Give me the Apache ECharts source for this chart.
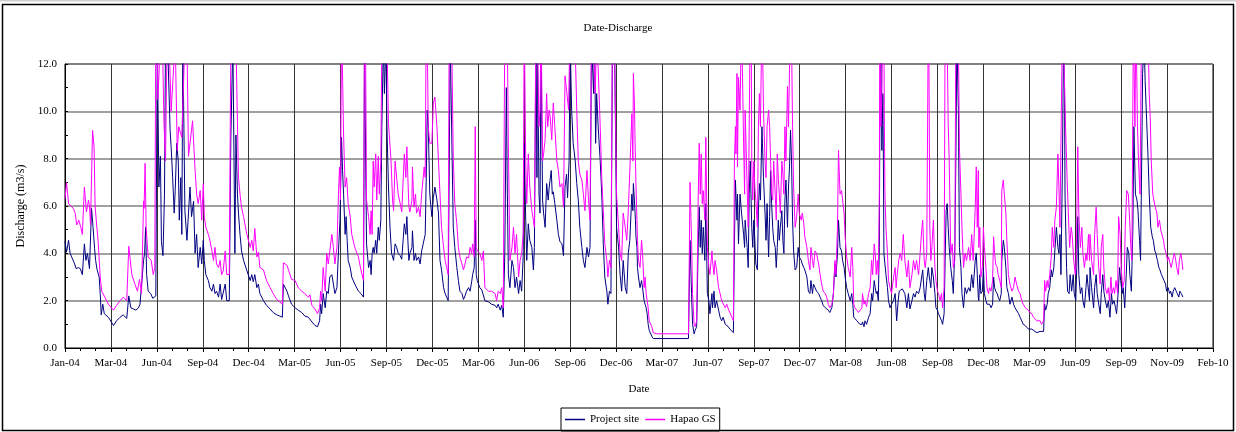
<!DOCTYPE html>
<html>
<head>
<meta charset="utf-8">
<script src="https://cdn.jsdelivr.net/npm/echarts@6/dist/echarts.min.js"></script>
<style>
html,body{margin:0;padding:0;background:#fff;}
#chart{width:1236px;height:432px;}
</style>
</head>
<body>
<div id="chart"></div>
<script>
// Day offsets are days since 2004-01-01; values are discharge in m3/s.
const startDate = [2004, 0, 1];
const monthNames = ['Jan','Feb','Mar','Apr','May','Jun','Jul','Aug','Sep','Oct','Nov','Dec'];
const seriesNames = ['Project site', 'Hapao GS'];
const yTicks = [0, 2, 4, 6, 8, 10, 12];

const projectSite = [[0,4.5],[3,4.05],[7,4.55],[10,4.0],[13,3.85],[18,3.6],[22,3.35],[26,3.4],[30,3.35],[34,3.1],[38,4.4],[41,3.7],[44,4.0],[48,3.35],[52,5.9],[55,5.1],[58,4.2],[60,3.7],[63,3.3],[67,3.0],[69,2.3],[71,1.4],[74,1.85],[77,1.45],[85,1.3],[95,0.95],[101,1.15],[108,1.3],[114,1.4],[121,1.25],[125,2.2],[129,1.7],[134,1.65],[139,1.6],[144,1.7],[147,1.85],[150,1.8],[154,3.7],[156,4.0],[158,5.1],[160,3.1],[163,2.4],[168,2.3],[172,2.1],[175,2.05],[178,2.2],[179,6.0],[181,13],[184,6.8],[187,8.1],[189,4.5],[192,3.9],[195,6.5],[197,13],[201,13],[206,9.2],[208,8.5],[211,7.2],[214,5.7],[216,6.65],[219,8.65],[222,7.9],[224,5.4],[227,7.2],[229,4.8],[231,13],[234,13],[235,5.8],[239,4.55],[242,5.7],[245,6.8],[248,5.55],[252,6.2],[255,4.0],[258,4.8],[261,3.4],[265,4.25],[268,3.55],[271,4.55],[273,3.7],[276,3.1],[281,2.85],[284,2.55],[288,2.4],[291,2.7],[294,2.3],[297,2.4],[301,2.15],[304,2.7],[307,2.05],[310,2.1],[314,2.7],[317,2.0],[322,2.0],[325,8.8],[329,13],[331,13],[333,4.0],[335,9.0],[338,6.5],[340,5.7],[343,4.8],[346,4.1],[350,3.7],[356,3.3],[363,2.85],[366,3.1],[369,2.8],[372,3.1],[376,2.55],[379,2.7],[382,2.3],[389,2.0],[395,1.8],[402,1.65],[408,1.5],[415,1.4],[421,1.35],[426,1.3],[428,2.7],[435,2.4],[438,2.2],[444,1.85],[451,1.7],[457,1.6],[464,1.5],[470,1.35],[477,1.3],[480,1.35],[484,1.1],[490,0.95],[495,0.9],[499,1.15],[501,1.85],[503,1.45],[506,2.3],[510,1.7],[513,2.4],[516,2.3],[519,3.0],[523,3.1],[526,2.7],[529,2.3],[533,2.55],[536,4.1],[539,5.4],[542,8.9],[544,7.5],[546,6.5],[549,4.8],[551,5.55],[553,4.55],[555,3.7],[559,3.4],[562,3.0],[568,2.7],[575,2.4],[580,2.3],[585,2.15],[587,13],[589,13],[591,4.4],[595,3.4],[598,3.7],[600,3.1],[602,4.0],[604,4.25],[606,4.0],[609,4.55],[611,4.0],[614,5.1],[616,4.55],[619,5.4],[621,9.35],[624,13],[626,10.75],[629,13],[631,9.35],[634,6.8],[637,5.1],[640,4.0],[644,3.7],[647,4.4],[650,4.25],[653,4.0],[657,3.9],[660,3.75],[663,3.7],[665,5.25],[668,4.8],[670,5.55],[672,4.55],[674,3.7],[676,4.0],[680,4.25],[681,4.95],[684,3.7],[687,4.0],[689,3.7],[693,3.85],[696,3.55],[699,4.1],[702,4.4],[706,4.8],[708,7.2],[710,10.05],[712,9.35],[715,6.5],[719,5.55],[722,6.35],[725,6.8],[729,6.25],[732,5.7],[735,3.7],[738,3.3],[742,2.55],[745,2.3],[748,2.15],[751,2.0],[755,13],[758,13],[761,5.1],[764,4.25],[768,3.4],[771,2.85],[774,2.4],[778,2.3],[781,2.05],[784,2.2],[787,2.4],[791,2.55],[794,2.4],[797,2.8],[799,3.1],[802,3.4],[804,5.4],[806,3.1],[808,2.85],[813,2.55],[817,2.45],[820,2.4],[823,2.0],[830,1.95],[836,1.85],[843,1.8],[846,1.7],[849,1.85],[853,1.6],[856,1.8],[859,1.3],[862,4.0],[865,11],[867,6.5],[869,3.1],[872,2.55],[876,3.7],[879,3.4],[882,2.55],[885,3.0],[889,2.3],[892,2.85],[895,2.4],[898,3.85],[900,8.65],[903,5.4],[905,3.7],[908,5.25],[911,4.55],[915,4.25],[918,3.3],[920,4.25],[923,13],[925,7.2],[926,13],[929,6.5],[931,5.7],[933,13],[936,6.25],[938,5.7],[941,5.1],[944,6.95],[947,6.25],[949,6.8],[953,7.5],[955,6.5],[957,6.6],[960,6.1],[964,5.4],[967,4.8],[970,4.5],[974,4.4],[977,3.9],[980,6.8],[983,7.35],[985,6.35],[988,7.9],[990,13],[993,10.05],[996,8.65],[1000,7.9],[1003,6.95],[1006,6.25],[1009,5.1],[1013,4.25],[1016,3.7],[1019,3.4],[1023,4.25],[1026,3.85],[1029,4.25],[1032,13],[1036,10.75],[1038,13],[1040,8.65],[1042,10.75],[1045,9.35],[1049,7.9],[1052,6.5],[1055,4.4],[1058,3.0],[1062,2.4],[1064,1.85],[1067,2.4],[1070,2.3],[1073,13],[1077,13],[1081,5.1],[1085,4.25],[1088,3.1],[1091,2.4],[1094,3.7],[1098,2.55],[1101,2.3],[1104,4.0],[1107,4.55],[1111,6.5],[1113,5.8],[1114,6.95],[1116,6.25],[1118,5.4],[1119,4.7],[1121,4.25],[1122,3.4],[1124,3.0],[1127,2.55],[1130,2.85],[1132,2.55],[1135,2.0],[1137,1.85],[1139,1.7],[1141,1.45],[1143,1.0],[1145,0.75],[1150,0.5],[1153,0.4],[1222,0.4],[1225,4.55],[1228,2.3],[1230,1.0],[1233,0.6],[1235,0.75],[1238,0.9],[1241,4.25],[1243,5.95],[1245,4.25],[1247,5.4],[1249,4.0],[1251,5.1],[1254,3.7],[1256,6.1],[1259,2.3],[1262,2.0],[1264,1.45],[1268,2.3],[1269,1.7],[1272,2.4],[1274,1.7],[1277,2.0],[1281,1.6],[1284,1.3],[1287,1.15],[1290,1.3],[1294,1.0],[1297,1.05],[1300,0.9],[1303,0.8],[1310,0.65],[1312,4.4],[1314,7.1],[1315,6.5],[1317,5.4],[1318,6.5],[1320,4.4],[1323,6.5],[1326,5.7],[1330,4.8],[1332,4.25],[1333,5.4],[1337,4.25],[1339,3.4],[1341,6.5],[1343,7.9],[1346,5.1],[1348,4.25],[1350,5.4],[1352,4.55],[1354,3.55],[1357,3.3],[1359,5.8],[1361,6.95],[1363,6.25],[1366,9.35],[1367,8.65],[1369,7.2],[1372,5.7],[1374,4.55],[1376,6.1],[1379,3.85],[1381,5.55],[1383,7.5],[1385,6.1],[1387,5.1],[1389,4.55],[1392,4.25],[1394,3.4],[1396,4.25],[1398,5.4],[1400,4.55],[1402,5.1],[1405,5.8],[1407,4.55],[1409,4.0],[1411,6.25],[1413,7.1],[1416,5.1],[1418,6.8],[1420,7.65],[1422,9.2],[1424,7.9],[1426,5.4],[1428,4.1],[1431,3.3],[1434,3.4],[1437,4.25],[1439,3.85],[1443,3.7],[1445,3.55],[1448,3.4],[1450,3.3],[1454,3.0],[1457,2.4],[1460,2.3],[1462,2.85],[1465,2.3],[1467,2.7],[1470,2.55],[1473,2.4],[1477,2.3],[1480,2.15],[1483,2.0],[1486,1.8],[1490,1.7],[1493,1.65],[1496,1.6],[1499,1.5],[1503,1.7],[1506,2.3],[1509,3.55],[1511,3.0],[1514,4.0],[1516,5.4],[1519,4.25],[1522,4.1],[1524,3.7],[1527,3.4],[1529,3.0],[1532,2.55],[1535,2.3],[1539,2.0],[1542,2.3],[1544,1.85],[1546,1.3],[1548,1.25],[1552,1.15],[1555,1.1],[1558,1.0],[1562,1.0],[1563,1.1],[1566,0.9],[1568,1.15],[1571,1.0],[1575,1.3],[1578,1.45],[1581,2.3],[1583,2.0],[1586,2.85],[1588,2.55],[1590,2.3],[1592,2.4],[1594,2.0],[1596,4.25],[1597,9.35],[1599,13],[1601,8.35],[1603,10.75],[1604,7.9],[1605,4.0],[1607,3.55],[1609,3.1],[1612,2.55],[1614,2.0],[1617,1.7],[1620,1.85],[1624,2.0],[1627,2.3],[1630,1.15],[1633,2.0],[1635,2.4],[1638,2.4],[1641,2.5],[1643,2.55],[1646,2.3],[1650,1.7],[1653,2.3],[1656,1.65],[1660,2.0],[1663,2.3],[1666,2.15],[1669,2.4],[1673,2.3],[1676,2.55],[1679,3.0],[1681,3.3],[1684,2.3],[1686,2.0],[1689,2.85],[1692,3.4],[1694,3.0],[1697,2.55],[1699,3.4],[1702,3.0],[1705,2.3],[1707,1.7],[1710,1.6],[1712,1.45],[1715,1.3],[1718,1.15],[1720,1.0],[1723,1.45],[1725,3.7],[1727,5.8],[1729,6.1],[1731,5.1],[1733,4.25],[1736,3.4],[1739,2.85],[1741,2.3],[1744,4.25],[1746,7.9],[1748,13],[1751,10.05],[1753,4.25],[1756,3.4],[1758,2.3],[1761,1.7],[1764,2.55],[1767,2.3],[1771,2.55],[1774,2.4],[1777,3.1],[1780,2.55],[1784,3.7],[1786,4.0],[1788,3.1],[1790,2.15],[1791,2.0],[1793,3.1],[1795,2.3],[1798,2.4],[1800,3.4],[1802,2.3],[1805,2.0],[1807,1.85],[1810,1.8],[1812,1.85],[1815,1.7],[1818,1.85],[1820,3.0],[1822,2.55],[1824,2.4],[1827,2.3],[1829,2.15],[1832,2.0],[1835,2.3],[1836,3.7],[1839,4.55],[1841,4.25],[1844,3.4],[1846,2.55],[1849,2.3],[1852,1.85],[1856,2.15],[1859,1.85],[1862,1.7],[1865,1.65],[1869,1.45],[1872,1.3],[1875,1.15],[1878,1.0],[1882,0.95],[1885,0.9],[1888,0.8],[1891,0.75],[1895,0.8],[1898,0.75],[1901,0.7],[1905,0.65],[1911,0.7],[1914,0.65],[1918,0.7],[1920,1.85],[1922,1.6],[1925,1.85],[1927,2.3],[1930,2.55],[1933,3.3],[1935,3.0],[1938,3.4],[1940,4.1],[1943,5.1],[1946,4.25],[1948,4.0],[1950,4.8],[1952,3.1],[1955,7.9],[1957,13],[1959,10.75],[1960,6.5],[1963,3.4],[1965,2.4],[1968,2.3],[1970,3.1],[1973,2.4],[1976,3.1],[1978,2.3],[1981,2.0],[1983,3.4],[1985,5.55],[1987,3.1],[1990,2.3],[1993,2.55],[1995,2.0],[1998,1.7],[2001,2.55],[2003,3.1],[2006,2.4],[2008,2.0],[2009,3.4],[2012,2.55],[2016,1.7],[2018,2.55],[2021,3.1],[2023,2.3],[2026,1.85],[2029,1.45],[2031,2.3],[2034,3.1],[2036,2.4],[2039,2.0],[2042,1.7],[2045,2.0],[2048,1.3],[2051,2.3],[2053,1.85],[2056,2.0],[2059,1.7],[2061,1.45],[2064,2.3],[2067,3.4],[2069,2.85],[2072,2.3],[2074,2.55],[2077,1.7],[2080,3.1],[2082,4.25],[2085,4.0],[2087,3.1],[2090,2.4],[2093,5.1],[2095,9.35],[2098,6.5],[2101,6.25],[2103,5.8],[2106,4.55],[2108,3.7],[2111,9.35],[2112,11.6],[2115,13],[2117,11.3],[2120,9.6],[2123,7.9],[2125,6.5],[2128,5.1],[2131,4.7],[2133,4.55],[2136,4.1],[2138,4.0],[2141,3.7],[2144,3.4],[2146,3.3],[2149,3.1],[2151,3.0],[2154,2.85],[2157,2.7],[2159,2.4],[2162,2.55],[2165,2.3],[2167,2.4],[2170,2.15],[2172,2.4],[2175,2.55],[2178,2.4],[2180,2.3],[2183,2.15],[2185,2.4],[2188,2.3],[2191,2.15]];

const hapaoGS = [[0,6.3],[3,7.0],[7,6.1],[12,6.0],[16,5.9],[20,5.7],[23,5.2],[27,5.4],[31,5.1],[34,4.8],[38,6.8],[42,5.75],[46,6.25],[48,6.0],[50,5.2],[54,9.2],[57,8.5],[59,6.0],[62,5.2],[65,4.5],[69,3.0],[72,2.4],[78,2.15],[85,1.85],[95,1.6],[101,1.8],[108,2.0],[114,2.15],[121,2.0],[125,4.3],[131,3.1],[137,2.7],[142,2.4],[146,2.9],[150,2.3],[154,6.2],[155,5.9],[157,7.8],[159,5.1],[163,3.85],[169,3.7],[173,3.1],[176,3.4],[178,14],[179,15],[182,10.5],[187,13],[191,13],[194,9.5],[197,7.9],[200,13],[204,13],[208,10],[216,13],[220,8.35],[223,9.35],[229,8.9],[235,13],[239,13],[242,8.1],[245,8.65],[250,9.6],[253,8.35],[255,7.5],[258,6.5],[261,6.1],[265,6.65],[268,5.4],[271,6.95],[273,5.55],[276,5.1],[281,4.8],[284,4.55],[288,4.1],[291,3.7],[294,4.25],[297,3.55],[301,3.4],[304,3.7],[307,3.1],[310,3.25],[314,4.1],[317,3.1],[322,3.1],[325,13],[330,14],[335,13],[340,7.2],[343,6.5],[346,5.95],[350,5.55],[356,4.85],[363,4.25],[366,4.55],[369,4.1],[372,5.05],[376,3.85],[379,4.05],[382,3.4],[389,3.3],[395,2.85],[402,2.55],[408,2.3],[415,2.05],[421,1.95],[426,1.85],[428,3.6],[435,3.5],[438,3.3],[444,2.9],[451,2.85],[457,2.55],[464,2.4],[470,2.3],[477,2.15],[480,2.25],[484,1.8],[490,1.65],[495,1.45],[499,1.7],[501,2.4],[503,2.0],[506,3.4],[510,2.4],[513,4.0],[516,3.55],[519,4.1],[523,4.8],[526,4.25],[529,3.55],[533,4.25],[536,6.5],[538,7.65],[540,6.25],[542,14],[546,9.0],[549,6.8],[552,7.2],[555,6.1],[559,5.55],[562,4.8],[568,4.25],[575,3.85],[580,3.3],[585,2.85],[587,14],[589,13],[591,6.25],[595,5.55],[598,4.8],[600,5.8],[602,4.8],[604,7.9],[606,6.8],[609,8.2],[611,6.25],[614,8.1],[616,6.5],[619,7.9],[621,13],[625,13],[627,14],[631,13],[634,9.5],[639,7.9],[642,6.25],[644,5.8],[647,7.9],[650,7.2],[653,6.5],[657,6.1],[660,5.75],[665,8.2],[668,7.2],[670,8.5],[672,7.2],[674,5.95],[676,5.75],[680,6.25],[681,7.65],[684,5.95],[687,6.5],[689,5.7],[693,5.95],[696,5.55],[699,6.5],[702,7.2],[704,7.65],[706,7.2],[708,14],[710,13],[712,9.35],[715,8.65],[719,8.65],[722,10.35],[725,10.6],[729,9.35],[732,7.9],[735,6.5],[738,5.1],[742,4.25],[745,3.7],[748,3.4],[751,3.1],[753,14],[758,13],[761,8.0],[764,6.1],[768,5.25],[771,4.25],[774,3.85],[778,3.55],[781,3.3],[784,3.55],[787,3.85],[791,3.8],[794,4.25],[797,4.0],[799,4.4],[802,3.85],[804,9.35],[806,4.25],[808,4.1],[813,4.0],[817,3.7],[820,4.1],[823,2.55],[830,2.4],[836,2.4],[843,2.3],[846,2.0],[849,2.4],[853,2.3],[856,2.55],[859,1.7],[862,14],[867,13],[869,8.5],[872,3.7],[876,4.25],[879,5.1],[882,4.0],[885,4.8],[889,3.0],[892,3.7],[895,4.0],[898,4.8],[900,14],[903,7.9],[905,6.1],[908,8.2],[911,6.8],[915,5.8],[918,5.4],[920,5.1],[923,14],[926,13],[929,9.35],[931,10.05],[933,14],[936,7.9],[938,8.2],[941,8.8],[944,10.75],[946,9.35],[949,10.05],[951,9.75],[954,8.8],[957,10.35],[960,9.35],[964,7.9],[967,7.5],[970,6.8],[974,6.95],[977,5.95],[980,11.5],[983,10.9],[987,10.05],[990,14],[994,13],[998,13],[1001,11.8],[1003,10.05],[1006,7.9],[1009,7.35],[1013,7.1],[1016,6.5],[1019,5.8],[1023,7.5],[1026,6.25],[1029,5.4],[1032,14],[1036,13],[1039,10.75],[1042,13],[1045,11.8],[1049,9.35],[1052,7.2],[1055,5.8],[1058,4.4],[1062,3.7],[1064,3.0],[1067,3.7],[1070,3.4],[1073,14],[1077,13],[1081,6.5],[1085,5.1],[1088,4.0],[1091,3.7],[1094,5.7],[1098,5.1],[1101,4.55],[1104,5.8],[1107,7.5],[1111,9.9],[1113,7.9],[1114,11.6],[1116,10.35],[1118,7.9],[1119,6.95],[1121,5.4],[1122,4.55],[1124,3.7],[1127,3.4],[1130,4.55],[1132,4.0],[1135,2.55],[1137,3.0],[1139,2.3],[1141,2.0],[1143,1.7],[1145,1.15],[1148,1.15],[1150,0.9],[1153,0.65],[1160,0.6],[1222,0.6],[1225,7.0],[1228,4.55],[1230,2.3],[1233,1.0],[1235,0.9],[1238,1.15],[1241,6.25],[1243,8.65],[1245,6.5],[1247,8.2],[1249,6.1],[1251,6.65],[1254,5.4],[1256,8.9],[1259,4.25],[1262,3.4],[1264,3.1],[1268,4.1],[1269,3.7],[1272,3.1],[1274,3.7],[1277,3.3],[1281,2.55],[1284,2.3],[1287,2.0],[1290,2.05],[1294,1.7],[1297,1.85],[1300,1.65],[1303,1.6],[1307,1.3],[1310,1.15],[1312,7.9],[1314,9.35],[1315,8.2],[1317,11.6],[1318,7.65],[1320,11.45],[1323,10.05],[1326,14],[1330,8.65],[1332,6.5],[1333,10.05],[1337,6.8],[1339,5.1],[1341,9.35],[1343,14],[1345,13],[1346,7.9],[1348,6.25],[1350,7.9],[1352,6.8],[1354,6.25],[1357,5.1],[1359,9.35],[1361,10.75],[1363,9.35],[1366,14],[1367,13],[1369,10.05],[1372,7.9],[1374,7.2],[1376,9.35],[1379,10.05],[1381,9.35],[1383,7.9],[1385,6.5],[1387,6.25],[1389,7.9],[1392,6.5],[1394,5.4],[1396,8.2],[1398,7.2],[1400,6.5],[1402,5.7],[1405,7.9],[1407,7.35],[1409,6.5],[1411,9.35],[1413,7.9],[1416,11.05],[1418,9.35],[1420,11.75],[1422,14],[1424,13],[1426,9.35],[1428,6.8],[1431,5.1],[1434,5.55],[1437,6.5],[1439,5.7],[1443,5.4],[1445,5.7],[1448,5.25],[1450,4.7],[1454,4.25],[1457,3.7],[1460,3.3],[1462,4.25],[1465,3.7],[1467,3.4],[1470,4.1],[1473,4.0],[1477,3.55],[1480,3.1],[1483,2.7],[1486,2.4],[1490,2.3],[1493,2.15],[1496,1.85],[1499,1.7],[1503,1.85],[1506,2.3],[1509,3.7],[1511,3.1],[1514,5.1],[1516,8.35],[1519,6.5],[1522,6.65],[1524,6.25],[1527,5.7],[1529,4.7],[1532,3.85],[1535,3.4],[1539,3.0],[1542,4.25],[1544,3.4],[1546,1.85],[1548,1.7],[1552,1.6],[1555,1.5],[1558,1.45],[1562,1.7],[1563,2.3],[1566,1.85],[1568,2.0],[1571,1.75],[1575,2.3],[1578,2.55],[1581,3.7],[1583,3.1],[1586,4.4],[1588,4.0],[1590,3.1],[1592,3.7],[1594,3.1],[1596,6.5],[1597,14],[1599,9.35],[1601,10.75],[1603,14],[1605,13],[1606,9.35],[1607,6.5],[1609,5.1],[1612,4.0],[1614,2.85],[1617,2.55],[1620,2.3],[1624,3.0],[1627,3.4],[1629,2.55],[1631,3.1],[1634,3.7],[1637,4.0],[1640,3.7],[1643,4.8],[1646,3.7],[1650,3.0],[1653,3.7],[1656,2.55],[1660,3.1],[1663,3.7],[1666,3.3],[1669,3.7],[1673,3.1],[1676,4.0],[1679,4.95],[1681,5.4],[1684,3.7],[1686,3.4],[1689,4.0],[1692,14],[1693,13],[1695,5.1],[1697,3.7],[1699,4.25],[1702,5.4],[1705,3.4],[1707,2.85],[1710,2.4],[1712,2.3],[1715,2.0],[1718,2.3],[1720,1.7],[1723,2.55],[1725,14],[1729,13],[1731,9.5],[1733,7.9],[1736,4.0],[1739,4.4],[1741,3.4],[1744,3.7],[1746,14],[1751,13],[1753,8.5],[1756,6.5],[1758,5.1],[1761,3.4],[1764,4.0],[1767,3.7],[1771,4.25],[1774,3.7],[1777,4.8],[1780,3.7],[1784,5.95],[1786,7.65],[1788,5.1],[1790,7.5],[1791,4.25],[1793,5.1],[1795,3.0],[1798,3.4],[1800,5.1],[1802,4.25],[1805,3.4],[1807,2.55],[1810,2.3],[1812,2.55],[1815,2.4],[1818,2.85],[1820,4.7],[1822,4.0],[1824,3.55],[1827,3.4],[1829,3.1],[1832,2.85],[1835,2.55],[1836,6.65],[1839,7.1],[1841,6.5],[1844,5.7],[1846,4.55],[1849,3.1],[1852,2.7],[1856,2.4],[1859,2.55],[1862,3.0],[1865,2.7],[1869,2.4],[1872,2.3],[1875,2.0],[1878,1.85],[1882,1.7],[1885,1.65],[1888,1.6],[1891,1.5],[1895,1.45],[1898,1.3],[1901,1.25],[1905,1.15],[1908,1.1],[1911,1.15],[1914,1.0],[1918,1.15],[1920,2.85],[1922,2.4],[1925,2.85],[1927,2.55],[1930,3.1],[1933,3.85],[1935,5.1],[1938,4.25],[1940,5.4],[1943,5.95],[1946,8.2],[1948,6.8],[1950,5.1],[1952,8.65],[1955,14],[1957,13],[1960,13],[1961,9.35],[1964,7.2],[1967,5.4],[1969,4.25],[1972,5.1],[1974,4.8],[1977,3.7],[1980,3.1],[1982,3.7],[1985,8.5],[1987,5.7],[1990,4.25],[1993,5.1],[1995,4.0],[1998,3.4],[2001,4.0],[2003,3.7],[2006,4.8],[2008,3.7],[2009,4.8],[2012,3.7],[2016,3.1],[2018,4.8],[2021,5.95],[2023,4.8],[2026,3.4],[2029,2.7],[2031,4.25],[2034,4.8],[2036,3.4],[2039,2.55],[2042,2.3],[2045,2.55],[2047,2.0],[2050,3.0],[2052,2.3],[2055,2.55],[2057,2.3],[2060,2.85],[2063,2.3],[2065,5.55],[2068,4.8],[2070,3.4],[2073,2.55],[2076,2.85],[2078,5.1],[2081,6.65],[2084,6.5],[2086,5.7],[2089,4.25],[2091,3.7],[2094,14],[2097,9.35],[2099,14],[2102,9.35],[2104,7.9],[2107,6.5],[2110,14],[2115,14],[2117,13],[2120,14],[2123,13],[2125,10.75],[2127,9.75],[2129,7.9],[2132,6.5],[2134,6.25],[2137,5.95],[2140,5.7],[2142,5.1],[2145,5.4],[2148,4.95],[2150,5.0],[2153,4.55],[2155,4.25],[2158,4.0],[2161,3.7],[2163,3.85],[2166,3.55],[2168,3.4],[2171,3.7],[2174,4.0],[2176,3.85],[2179,3.4],[2182,3.1],[2184,3.7],[2187,4.0],[2189,3.7],[2191,3.3]];

const FONT = 'Liberation Serif';
const startMs = Date.UTC(startDate[0], startDate[1], startDate[2]);
function dayLabel(d) {
  const t = new Date(startMs + d * 86400000);
  return monthNames[t.getUTCMonth()] + '-' + String(t.getUTCFullYear()).slice(2);
}

const chart = echarts.init(document.getElementById('chart'), null, { renderer: 'canvas' });
chart.setOption({
  animation: false,
  backgroundColor: '#ffffff',
  title: {
    text: 'Date-Discharge', left: 'center', top: 18,
    textStyle: { fontFamily: FONT, fontSize: 11, fontWeight: 'normal', color: '#000' }
  },
  legend: {
    data: seriesNames,
    left: 561, top: 408,
    orient: 'horizontal',
    icon: 'rect',
    padding: [5, 4, 5, 4],
    itemWidth: 20, itemHeight: 1.5, itemGap: 6,
    borderColor: '#000', borderWidth: 1,
    textStyle: { fontFamily: FONT, fontSize: 11, color: '#000', lineHeight: 13 }
  },
  grid: { left: 65, right: 23, top: 64, bottom: 84, show: true, borderColor: '#000', borderWidth: 1, containLabel: false },
  xAxis: {
    type: 'value', min: 0, max: 2250, interval: 90,
    name: 'Date', nameLocation: 'middle', nameGap: 36,
    nameTextStyle: { fontFamily: FONT, fontSize: 11, color: '#000' },
    axisLine: { show: true, lineStyle: { color: '#000', width: 1 } },
    axisTick: { show: true, inside: false, length: 4, lineStyle: { color: '#000' } },
    minorTick: { show: true, splitNumber: 3, length: 3, lineStyle: { color: '#000' } },
    axisLabel: { formatter: dayLabel, fontFamily: FONT, fontSize: 11, color: '#000', margin: 10, showMinLabel: true, showMaxLabel: true },
    splitLine: { show: true, lineStyle: { color: '#333', width: 1 } }
  },
  yAxis: {
    type: 'value', min: yTicks[0], max: yTicks[yTicks.length - 1], interval: yTicks[1] - yTicks[0],
    name: 'Discharge (m3/s)', nameLocation: 'middle', nameGap: 36, nameRotate: 90,
    nameTextStyle: { fontFamily: FONT, fontSize: 12, color: '#000' },
    axisLine: { show: true, lineStyle: { color: '#000', width: 1 } },
    axisTick: { show: true, inside: true, length: 3, lineStyle: { color: '#000' } },
    minorTick: { show: true, splitNumber: 2, length: 3, lineStyle: { color: '#000' } },
    axisLabel: { formatter: v => v.toFixed(1), fontFamily: FONT, fontSize: 11, color: '#000', margin: 8 },
    splitLine: { show: true, lineStyle: { color: '#808080', width: 1.5 } }
  },
  series: [
    {
      name: seriesNames[0], type: 'line', data: projectSite,
      showSymbol: false, symbol: 'none', clip: true,
      lineStyle: { color: '#000080', width: 1 }, itemStyle: { color: '#000080' }
    },
    {
      name: seriesNames[1], type: 'line', data: hapaoGS,
      showSymbol: false, symbol: 'none', clip: true,
      lineStyle: { color: '#ff00ff', width: 1 }, itemStyle: { color: '#ff00ff' }
    }
  ],
  graphic: [
    { type: 'rect', silent: true, z: -1, shape: { x: 0, y: 0, width: 1236, height: 1.5 }, style: { fill: '#d0d0d0' } },
    { type: 'rect', silent: true, shape: { x: 2.5, y: 4.5, width: 1231, height: 426 }, style: { fill: 'none', stroke: '#000', lineWidth: 1.5 } }
  ]
});
</script>
</body>
</html>
